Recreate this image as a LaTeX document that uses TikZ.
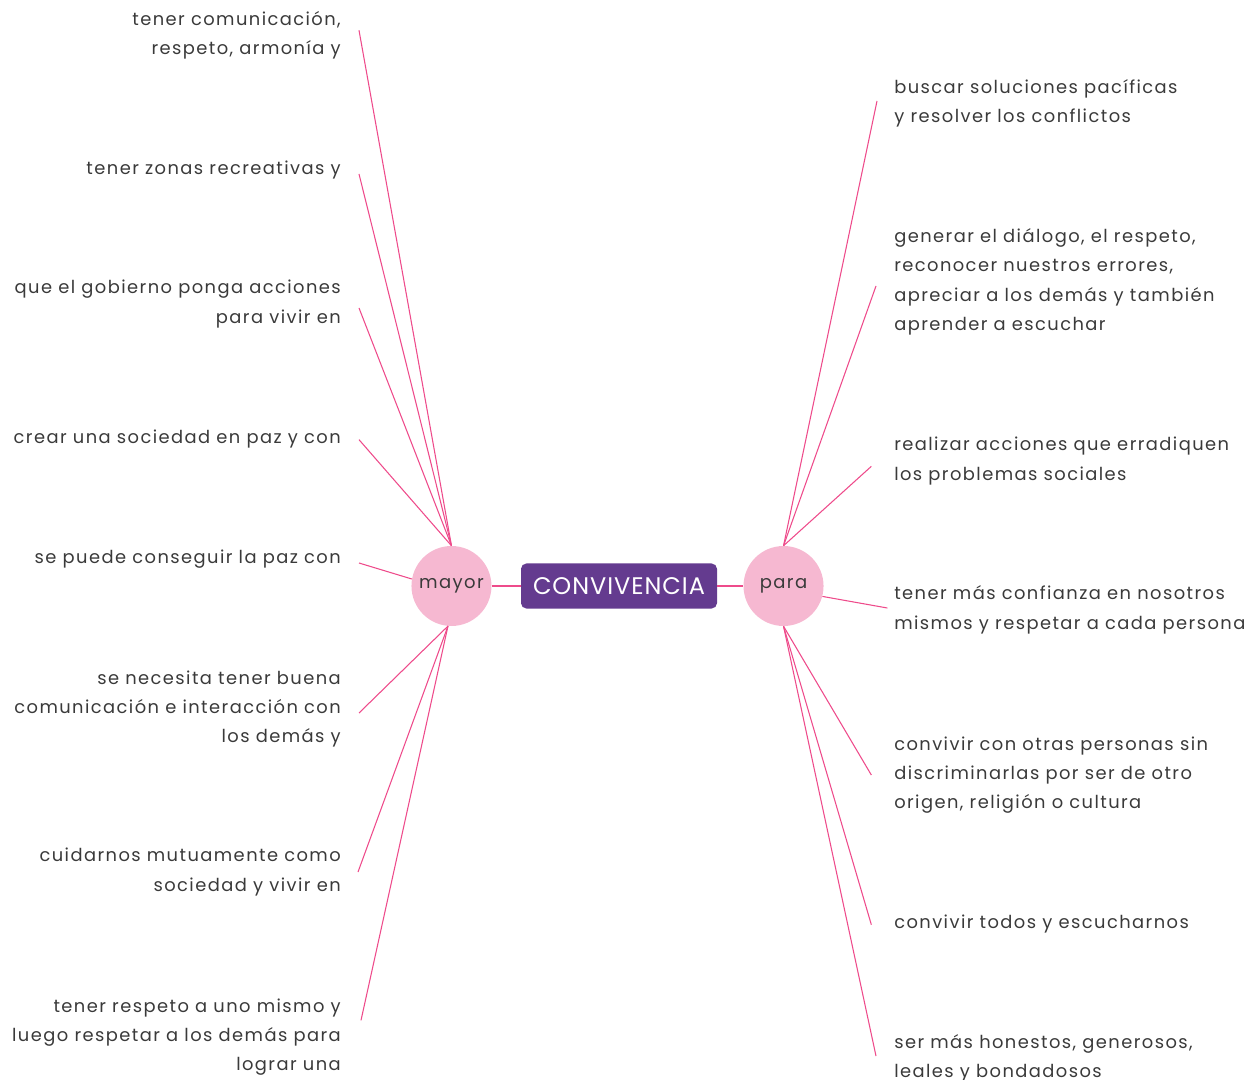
\documentclass[tikz,border=0pt]{standalone}
\usepackage{fontspec}
\setmainfont[LetterSpace=8]{Poppins}
\newfontfamily\titulo[LetterSpace=4]{Poppins}
\usetikzlibrary{positioning}
\definecolor{morado}{HTML}{643B8F}
\definecolor{rosa}{HTML}{F6B8D1}
\definecolor{linea}{HTML}{EE4B8B}
\definecolor{texto}{HTML}{3A3A3A}
\tikzset{
	burbuja/.style={circle, fill=rosa, minimum size=60pt, inner sep=0pt, text=texto, font=\fontsize{13.5}{16}\selectfont},
	rama/.style={linea, line width=0.8pt},
	izq/.style={anchor=east, align=right, inner sep=0pt, text=texto, font=\fontsize{13.4}{22}\selectfont},
	der/.style={anchor=west, align=left, inner sep=0pt, text=texto, font=\fontsize{13.4}{22}\selectfont}
}
\begin{document}
\begin{tikzpicture}[x=0.75pt, y=-0.75pt]
			\useasboundingbox (0,0) rectangle (1254,1080);
			% centro y burbujas
			\node[fill=morado, rounded corners=4pt, minimum width=147pt, minimum height=33.75pt, text=white, font=\titulo\fontsize{18}{20}\selectfont] (centro) at (619,586) {CONVIVENCIA};
			\node[burbuja, left=21.75pt of centro] (mayor) {mayor};
			\node[burbuja, right=19.5pt of centro] (para) {para};
			\draw[rama] (mayor) -- (centro);
			\draw[rama] (centro) -- (para);
			% lado izquierdo
			\node[izq] (l1) at (341,35) {tener comunicación,\\respeto, armonía y};
			\node[izq] (l2) at (341,170) {tener zonas recreativas y};
			\node[izq] (l3) at (341,304) {que el gobierno ponga acciones\\para vivir en};
			\node[izq] (l4) at (341,439) {crear una sociedad en paz y con};
			\node[izq] (l5) at (341,559) {se puede conseguir la paz con};
			\node[izq] (l6) at (341,709) {se necesita tener buena\\comunicación e interacción con\\los demás y};
			\node[izq] (l7) at (341,872) {cuidarnos mutuamente como\\sociedad y vivir en};
			\node[izq] (l8) at (341,1037) {tener respeto a uno mismo y\\luego respetar a los demás para\\lograr una};
			\draw[rama] (mayor.north) -- ([xshift=13.5pt, yshift=3.5pt]l1.east);
			\draw[rama] (mayor.north) -- ([xshift=13.5pt, yshift=-3pt]l2.east);
			\draw[rama] (mayor.north) -- ([xshift=13.5pt, yshift=-3pt]l3.east);
			\draw[rama] (mayor.north) -- ([xshift=13.5pt, yshift=-0.5pt]l4.east);
			\draw[rama] (mayor.170) -- ([xshift=13.5pt, yshift=-3pt]l5.east);
			\draw[rama] (mayor.265) -- ([xshift=13.5pt, yshift=-3pt]l6.east);
			\draw[rama] (mayor.265) -- ([xshift=12.75pt]l7.east);
			\draw[rama] (mayor.265) -- ([xshift=15pt, yshift=12.5pt]l8.east);
			% lado derecho
			\node[der] (r1) at (894,103) {buscar soluciones pacíficas\\y resolver los conflictos};
			\node[der] (r2) at (894,282) {generar el diálogo, el respeto,\\reconocer nuestros errores,\\apreciar a los demás y también\\aprender a escuchar};
			\node[der] (r3) at (894,461) {realizar acciones que erradiquen\\los problemas sociales};
			\node[der] (r4) at (894,610) {tener más confianza en nosotros\\mismos y respetar a cada persona};
			\node[der] (r5) at (894,775) {convivir con otras personas sin\\discriminarlas por ser de otro\\origen, religión o cultura};
			\node[der] (r6) at (894,924) {convivir todos y escucharnos};
			\node[der] (r7) at (894,1058) {ser más honestos, generosos,\\leales y bondadosos};
			\draw[rama] (para.north) -- ([xshift=-12.75pt, yshift=1.5pt]r1.west);
			\draw[rama] (para.north) -- ([xshift=-13.5pt, yshift=-3pt]r2.west);
			\draw[rama] (para.north) -- ([xshift=-17pt, yshift=-4pt]r3.west);
			\draw[rama] (para.345) -- ([xshift=-5pt, yshift=1.5pt]r4.west);
			\draw[rama] (para.south) -- ([xshift=-17pt]r5.west);
			\draw[rama] (para.south) -- ([xshift=-17pt, yshift=-0.5pt]r6.west);
			\draw[rama] (para.south) -- ([xshift=-13.5pt, yshift=1.5pt]r7.west);
		\end{tikzpicture}
\end{document}
